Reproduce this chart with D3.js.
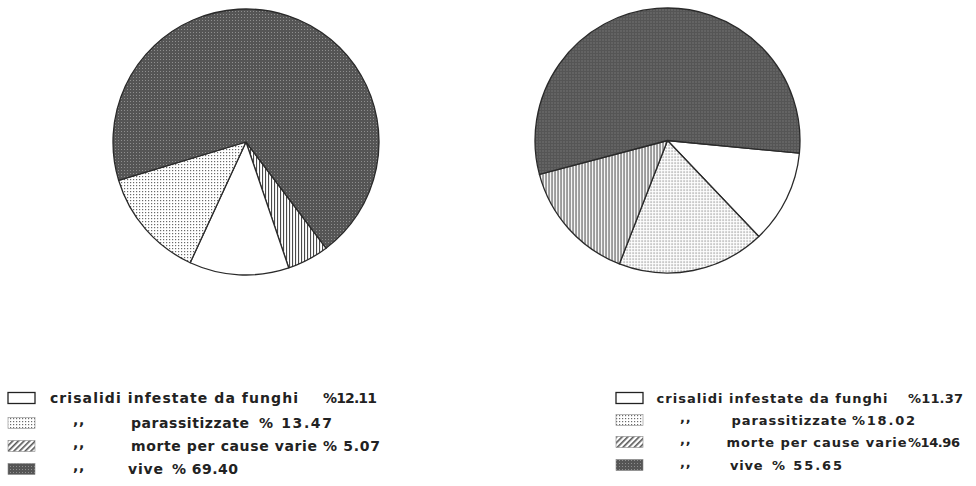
<!DOCTYPE html>
<html><head><meta charset="utf-8">
<script src="https://cdn.jsdelivr.net/npm/d3@7/dist/d3.min.js"></script>
<style>body{margin:0;background:#fff}svg{display:block}</style>
</head><body><svg id="c" width="976" height="486"></svg>
<script>
// Data
const categories = ["crisalidi infestate da funghi", "parassitizzate", "morte per cause varie", "vive"];
const leftValues = [12.11, 13.47, 5.07, 69.40];
const rightValues = [11.37, 18.02, 14.96, 55.65];
const leftLabels = ["%12.11", "% 13.47", "% 5.07", "% 69.40"];
const rightLabels = ["%11.37", "%18.02", "%14.96", "% 55.65"];
const ditto = ",,";

const svg = d3.select("#c");
const defs = svg.append("defs");

function pat(id, w, h, build) {
  const p = defs.append("pattern").attr("id", id).attr("patternUnits", "userSpaceOnUse")
    .attr("width", w).attr("height", h);
  build(p);
}
pat("pVive", 3, 3, p => {
  p.append("rect").attr("width", 3).attr("height", 3).attr("fill", "#555");
  p.append("rect").attr("x", 1).attr("y", 1).attr("width", 1).attr("height", 1).attr("fill", "#8e8e8e");
});
pat("pDots", 3, 3, p => {
  p.append("rect").attr("width", 3).attr("height", 3).attr("fill", "#fff");
  p.append("rect").attr("x", 1).attr("y", 1).attr("width", 1.2).attr("height", 1.2).attr("fill", "#6a6a6a");
});
pat("pVert", 3, 3, p => {
  p.append("rect").attr("width", 3).attr("height", 3).attr("fill", "#fff");
  p.append("rect").attr("x", 1).attr("y", 0).attr("width", 1.1).attr("height", 3).attr("fill", "#4a4a4a");
});
pat("pDiag", 4, 4, p => {
  p.attr("patternTransform", "rotate(45)");
  p.append("rect").attr("width", 4).attr("height", 4).attr("fill", "#fff");
  p.append("rect").attr("x", 0).attr("y", 0).attr("width", 1.6).attr("height", 4).attr("fill", "#555");
});

const pieFills = ["#fff", "url(#pDots)", "url(#pVert)", "url(#pVive)"];
const legendFills = ["#fff", "url(#pDots)", "url(#pDiag)", "url(#pVive)"];

function drawPie(values, cx, cy, r, startDeg, order) {
  const data = order.map(i => ({ i, v: values[i] }));
  const start = startDeg * Math.PI / 180;
  const pie = d3.pie().value(d => d.v).sort(null).startAngle(start).endAngle(start + 2 * Math.PI);
  const arc = d3.arc().innerRadius(0).outerRadius(r);
  const g = svg.append("g").attr("transform", `translate(${cx},${cy})`);
  g.selectAll("path").data(pie(data)).join("path")
    .attr("d", arc)
    .attr("fill", d => pieFills[d.data.i])
    .attr("stroke", "#2a2a2a").attr("stroke-width", 1.3).attr("stroke-linejoin", "round");
}
drawPie(leftValues, 246, 142, 133, 143, [2, 0, 1, 3]);
drawPie(rightValues, 667.5, 140.5, 132.5, 95.5, [0, 1, 2, 3]);

const FONT = "DejaVu Sans, Verdana, sans-serif";
function drawLegend(o) {
  const g = svg.append("g");
  const txt = (x, y, s, len) => {
    const t = g.append("text").attr("x", x).attr("y", y)
      .attr("font-family", FONT).attr("font-weight", "bold")
      .attr("font-size", o.fs).attr("fill", "#222").text(s);
    if (len) t.attr("textLength", len).attr("lengthAdjust", "spacing");
    else t.attr("letter-spacing", o.ls);
    return t;
  };
  o.rows.forEach((y, k) => {
    g.append("rect").attr("x", o.boxX).attr("y", y - 5.5).attr("width", 27).attr("height", 11)
      .attr("fill", legendFills[k]).attr("stroke", k === 0 ? "#222" : "#888").attr("stroke-width", k === 0 ? 1.3 : 0.6);
    if (k > 0) txt(o.dittoX, y + 2, ditto);
    txt(o.catX[k], y + 5, categories[k], o.catW[k]);
    txt(o.pctX[k], y + 5, o.labels[k], o.pctW[k]);
  });
}
drawLegend({ boxX: 8, rows: [398, 423, 446, 469], fs: 14, ls: 0.8, dittoX: 73,
  catX: [50, 131, 131, 128], catW: [248, 118, 186, 0],
  pctX: [323, 259, 323, 172], pctW: [54, 73, 57, 66], labels: leftLabels });
drawLegend({ boxX: 616, rows: [398, 420, 442, 465], fs: 13, ls: 0.8, dittoX: 680,
  catX: [656.5, 731.5, 726.5, 730], catW: [231, 115, 180, 0],
  pctX: [908, 852, 908, 772], pctW: [55, 63, 52, 70], labels: rightLabels });
</script></body></html>
